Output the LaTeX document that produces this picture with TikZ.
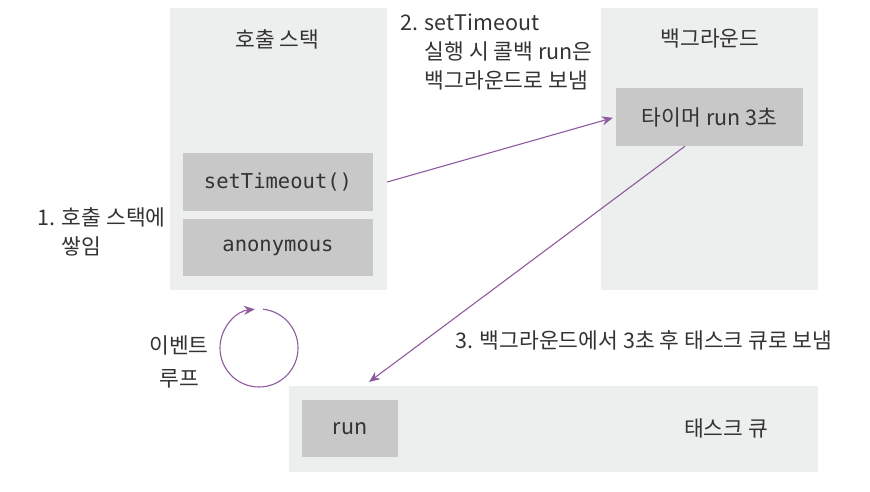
\documentclass[tikz,border=0pt]{standalone}
\usepackage{fontspec}
\setmainfont{Noto Sans CJK KR}
\setmonofont{DejaVu Sans Mono}
\usetikzlibrary{arrows.meta}
\definecolor{panelgray}{HTML}{EDEEEE}
\definecolor{slotgray}{HTML}{C8C8C8}
\definecolor{looppurple}{RGB}{142,90,160}
\definecolor{inkgray}{HTML}{333333}

\begin{document}
\begin{tikzpicture}[x=1pt,y=-1pt,>={Stealth[length=11pt,width=9pt]},
    panel/.style={fill=panelgray,inner sep=0pt},
    slot/.style={fill=slotgray,inner sep=0pt},
    flow/.style={->,looppurple,line width=1.1pt},
    every node/.style={font=\fontsize{21.5}{29}\selectfont,text=inkgray}]
                \useasboundingbox (0,0) rectangle (870,492);

                \node[panel,minimum width=217,minimum height=282] (stack) at (278.5,149) {};
                \node (stacktitle) at (277.5,39) {호출 스택};
                \node[slot,minimum width=190,minimum height=58,font=\ttfamily\fontsize{20.5}{24}\selectfont] (st) at (278,182) {setTimeout()};
                \node[slot,minimum width=190,minimum height=57,font=\ttfamily\fontsize{20.5}{24}\selectfont] (anon) at (278,247.5) {anonymous};

                \node[panel,minimum width=217,minimum height=282] (bg) at (709.5,149) {};
                \node (bgtitle) at (710,38) {백그라운드};
                \node[slot,minimum width=187,minimum height=58] (timer) at (709.5,117) {타이머 run 3초};

                \node[panel,minimum width=529,minimum height=86] (queue) at (553.5,428.5) {};
                \node[slot,minimum width=96,minimum height=57] (run) at (350,428.5) {run};
                \node (queuetitle) at (726,428) {태스크 큐};

                \node[align=left,anchor=west] (note1) at (34,231.5) {1. 호출 스택에\\\hphantom{1. }쌓임};
                \node[align=left,anchor=west] (note2) at (397,52) {2. setTimeout\\\hphantom{2. }실행 시 콜백 run은\\\hphantom{2. }백그라운드로 보냄};
                \node[anchor=west] (note3) at (452,340) {3. 백그라운드에서 3초 후 태스크 큐로 보냄};
                \node[align=center,font=\fontsize{21.5}{33}\selectfont] (looplabel) at (179,361.5) {이벤트\\루프};

                \draw[flow] (259,348) ++(-84:39) arc[start angle=-84,end angle=264,radius=39];

                \coordinate (sendout) at (stack.east |- st.center);
                \coordinate (drop) at (369,382);
                \draw[flow,shorten >=3pt] (sendout) -- (timer.west);
                \draw[flow] (timer.-130) -- (drop);
            \end{tikzpicture}
\end{document}
